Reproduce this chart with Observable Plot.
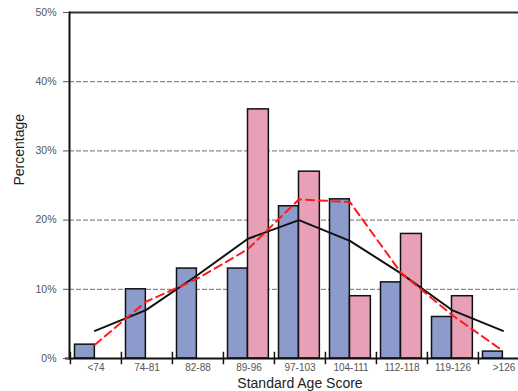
<!DOCTYPE html>
<html>
<head>
<meta charset="utf-8">
<script src="https://cdn.jsdelivr.net/npm/d3@7"></script>
<script src="https://cdn.jsdelivr.net/npm/@observablehq/plot@0.6"></script>
<style>
  html, body { margin: 0; padding: 0; background: #fff; }
  #chart svg { display: block; font-family: "Liberation Sans", Arial, sans-serif; }
</style>
</head>
<body>
<div id="chart"></div>
<script>
const categories = ["<74", "74-81", "82-88", "89-96", "97-103", "104-111", "112-118", "119-126", ">126"];
const blueValues = [2, 10, 13, 13, 22, 23, 11, 6, 1];
const pinkValues = [0, 0, 0, 36, 27, 9, 18, 9, 0];
const blackLine = [4, 7, 12, 17.3, 20, 17, 12.3, 7, 4];
const redLine = [2, 8.2, 11.5, 15.8, 23, 22.6, 12.4, 6.3, 1.1];
const yTicks = [0, 10, 20, 30, 40, 50];
const gridTicks = [10, 20, 30, 40];

const blue = categories.map((c, i) => ({cat: c, v: blueValues[i]}));
const pink = categories.map((c, i) => ({cat: c, v: pinkValues[i]})).filter(d => d.v > 0);
const black = categories.map((c, i) => ({cat: c, v: blackLine[i]}));
const red = categories.map((c, i) => ({cat: c, v: redLine[i]}));

const xRange = [69, 529.3];
const bw = (xRange[1] - xRange[0]) / categories.length;

const chart = Plot.plot({
  width: 518,
  height: 391,
  marginLeft: 69,
  marginRight: 0,
  marginTop: 12,
  marginBottom: 33,
  x: {type: "band", domain: categories, range: xRange, padding: 0, label: null},
  y: {domain: [0, 50], label: null},
  marks: [
    Plot.ruleY(gridTicks, {stroke: "#8a8a8a", strokeWidth: 1.2, strokeDasharray: "5,2"}),
    Plot.ruleY([50], {stroke: "#333", strokeWidth: 2}),
    Plot.barY(blue, {x: "cat", y: "v", fill: "#8c9bcb", stroke: "#111", strokeWidth: 1.5, insetLeft: 4.5, insetRight: bw - 24.5}),
    Plot.barY(pink, {x: "cat", y: "v", fill: "#e8a0b6", stroke: "#111", strokeWidth: 1.5, insetLeft: 24.5, insetRight: bw - 45.5}),
    Plot.line(black, {x: "cat", y: "v", stroke: "#111", strokeWidth: 2, dx: 24.5 - bw / 2}),
    Plot.line(red, {x: "cat", y: "v", stroke: "#ff1a1a", strokeWidth: 2, strokeDasharray: "8,5", dx: 24.5 - bw / 2}),
    Plot.ruleY([0], {stroke: "#111", strokeWidth: 2, insetLeft: -4}),
    Plot.frame({anchor: "left", stroke: "#111", strokeWidth: 2}),
    Plot.ruleX(categories, {x: d => d, y1: -0.9, y2: 0.9, stroke: "#111", strokeWidth: 1.5, dx: -bw / 2}),
    Plot.axisY({ticks: yTicks, tickFormat: d => d + "%", tickSize: 6, tickPadding: 7, fontSize: 10.5, color: "#555", label: null}),
    Plot.axisX({tickSize: 0, tickPadding: 5, fontSize: 10, color: "#555", label: null}),
    Plot.text(["Standard Age Score"], {frameAnchor: "bottom", dx: 6, dy: 29, fontSize: 14, fill: "#222"}),
    Plot.text(["Percentage"], {frameAnchor: "left", rotate: -90, dx: -50, fontSize: 14, fill: "#222"})
  ]
});
document.getElementById("chart").append(chart);
</script>
</body>
</html>
